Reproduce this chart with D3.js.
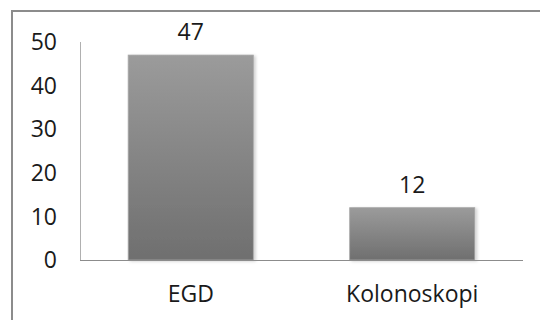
<!DOCTYPE html>
<html>
<head>
<meta charset="utf-8">
<script src="https://cdn.jsdelivr.net/npm/d3@7"></script>
<style>
  body { margin: 0; background: #fff; }
  svg { display: block; }
  text { font-family: "Open Sans", sans-serif; fill: #1a1a1a; }
</style>
</head>
<body>
<script>
let width = 540,
  height = 320;

// chart data
const categories = ["EGD", "Kolonoskopi"];
const values = [47, 12];
const yTicks = [0, 10, 20, 30, 40, 50];

let margin = { top: 42, right: 17, bottom: 60, left: 80 };
let fontSize = "23px";

let svg = d3.select("body").append("svg")
  .attr("width", width)
  .attr("height", height);

let defs = svg.append("defs");
let grad = defs.append("linearGradient")
  .attr("id", "barGrad")
  .attr("x1", 0).attr("y1", 0).attr("x2", 0).attr("y2", 1);
grad.append("stop").attr("offset", "0%").attr("stop-color", "#9b9b9b");
grad.append("stop").attr("offset", "100%").attr("stop-color", "#6f6f6f");

let shadow = defs.append("filter").attr("id", "shadow")
  .attr("x", "-10%").attr("y", "-10%").attr("width", "130%").attr("height", "130%");
shadow.append("feDropShadow")
  .attr("dx", 2).attr("dy", 1).attr("stdDeviation", 1.5)
  .attr("flood-color", "#000").attr("flood-opacity", 0.18);

// outer frame (cut off at right and bottom in the original)
svg.append("rect")
  .attr("x", 12).attr("y", 11)
  .attr("width", 560).attr("height", 340)
  .attr("fill", "none")
  .attr("stroke", "#8c8c8c")
  .attr("stroke-width", 2);

let x = d3.scaleBand()
  .domain(categories)
  .range([margin.left, width - margin.right])
  .paddingInner(0.435)
  .paddingOuter(0.2175);

let y = d3.scaleLinear()
  .domain([0, 50])
  .range([height - margin.bottom, margin.top]);

// y axis line
svg.append("line")
  .attr("x1", margin.left + 0.5).attr("x2", margin.left + 0.5)
  .attr("y1", y(50)).attr("y2", y(0))
  .attr("stroke", "#b0b0b0");

// y tick labels
svg.selectAll(".ytick")
  .data(yTicks)
  .enter().append("text")
  .attr("class", "ytick")
  .attr("x", 57)
  .attr("y", d => y(d))
  .attr("dy", "0.36em")
  .attr("text-anchor", "end")
  .style("font-size", fontSize)
  .text(d => d);

// bars
svg.selectAll(".bar")
  .data(values)
  .enter().append("rect")
  .attr("class", "bar")
  .attr("x", (d, i) => x(categories[i]))
  .attr("y", d => y(d))
  .attr("width", x.bandwidth())
  .attr("height", d => y(0) - y(d))
  .attr("fill", "url(#barGrad)")
  .attr("stroke", "#a8a8a8")
  .attr("stroke-width", 0.8)
  .attr("filter", "url(#shadow)");

// baseline
svg.append("line")
  .attr("x1", margin.left).attr("x2", width - margin.right)
  .attr("y1", y(0) + 0.5).attr("y2", y(0) + 0.5)
  .attr("stroke", "#8c8c8c");

// value labels
svg.selectAll(".val")
  .data(values)
  .enter().append("text")
  .attr("class", "val")
  .attr("x", (d, i) => x(categories[i]) + x.bandwidth() / 2)
  .attr("y", d => y(d) - 15)
  .attr("text-anchor", "middle")
  .style("font-size", fontSize)
  .text(d => d);

// category labels
svg.selectAll(".cat")
  .data(categories)
  .enter().append("text")
  .attr("class", "cat")
  .attr("x", d => x(d) + x.bandwidth() / 2)
  .attr("y", 302)
  .attr("text-anchor", "middle")
  .style("font-size", fontSize)
  .text(d => d);
</script>
</body>
</html>
